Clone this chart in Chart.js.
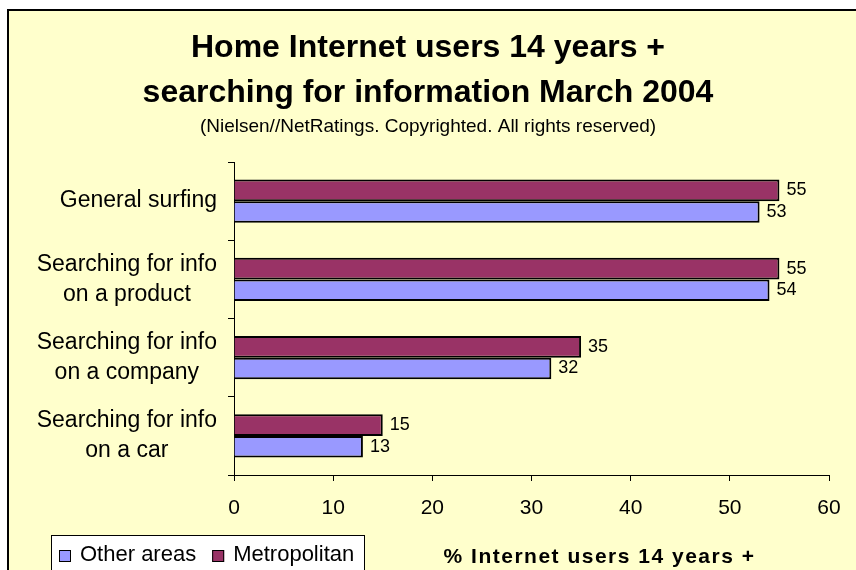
<!DOCTYPE html>
<html>
<head>
<meta charset="utf-8">
<script src="https://cdn.jsdelivr.net/npm/chart.js@4.4.0/dist/chart.umd.min.js"></script>
<style>
  html, body { margin: 0; padding: 0; background: #fff; }
  canvas { display: block; }
</style>
</head>
<body>
<canvas id="grafico" width="856" height="570"></canvas>
<script>
// categorias e valores (%)
const categorias = [
  'General surfing',
  ['Searching for info', 'on a product'],
  ['Searching for info', 'on a company'],
  ['Searching for info', 'on a car']
];
const metropolitan = [55, 55, 35, 15];
const otherAreas = [53, 54, 32, 13];
const eixoMin = 0;
const eixoMax = 60;
const eixoPasso = 10;

const fonte = "'Liberation Sans', Arial, sans-serif";
Chart.defaults.font.family = fonte;

// fundo amarelo com a moldura
const fundo = {
  id: 'fundo',
  beforeDraw(chart) {
    const ctx = chart.ctx;
    ctx.save();
    ctx.fillStyle = '#ffffff';
    ctx.fillRect(0, 0, chart.width, chart.height);
    ctx.fillStyle = '#ffffcc';
    ctx.fillRect(8, 10, chart.width - 8, chart.height - 10);
    ctx.strokeStyle = '#000';
    ctx.lineWidth = 2;
    ctx.beginPath();
    ctx.moveTo(8, chart.height);
    ctx.lineTo(8, 10);
    ctx.lineTo(chart.width, 10);
    ctx.stroke();
    ctx.restore();
  }
};

// rótulos do eixo y: cada bloco centrado em si e encostado à direita
const alinharRotulos = {
  id: 'alinharRotulos',
  beforeDraw(chart) {
    const escala = chart.scales.y;
    const ctx = chart.ctx;
    const direita = escala.right - escala.options.grid.tickLength - escala.options.ticks.padding;
    ctx.save();
    escala.getLabelItems(chart.chartArea).forEach(item => {
      ctx.font = item.font.string;
      const linhas = Array.isArray(item.label) ? item.label : [item.label];
      const largura = Math.max(...linhas.map(l => ctx.measureText(l).width));
      item.options.textAlign = 'center';
      item.options.translation[0] = direita - largura / 2;
    });
    ctx.restore();
  }
};

// título do eixo x fica mais à direita, ao lado da legenda
const tituloEixoX = {
  id: 'tituloEixoX',
  afterLayout(chart) {
    const escala = chart.scales.x;
    if (escala._tituloMovido) return;
    escala._tituloMovido = true;
    const desenhar = escala.drawTitle;
    escala.drawTitle = function () {
      const ctx = this.ctx;
      ctx.save();
      ctx.translate(68, 4);
      ctx.letterSpacing = '1.5px';
      desenhar.call(this);
      ctx.restore();
    };
  }
};

// valor escrito na ponta de cada barra
const rotulos = {
  id: 'rotulos',
  afterDatasetsDraw(chart) {
    const ctx = chart.ctx;
    ctx.save();
    ctx.font = `18px ${fonte}`;
    ctx.fillStyle = '#000';
    ctx.textBaseline = 'middle';
    chart.data.datasets.forEach((ds, i) => {
      chart.getDatasetMeta(i).data.forEach((barra, j) => {
        ctx.fillText(ds.data[j], barra.x + 7, barra.y);
      });
    });
    ctx.restore();
  }
};

// legenda em caixa branca no canto de baixo
const legenda = {
  id: 'legenda',
  afterDraw(chart) {
    const ctx = chart.ctx;
    ctx.save();
    ctx.fillStyle = '#fff';
    ctx.fillRect(51, 535, 313, 50);
    ctx.strokeStyle = '#000';
    ctx.lineWidth = 1;
    ctx.strokeRect(51.5, 535.5, 313, 50);
    ctx.font = `22px ${fonte}`;
    ctx.textBaseline = 'middle';
    let x = 59;
    [...chart.data.datasets].reverse().forEach(ds => {
      ctx.fillStyle = ds.backgroundColor;
      ctx.fillRect(x, 550, 12, 12);
      ctx.strokeRect(x + 0.5, 550.5, 11, 11);
      ctx.fillStyle = '#000';
      ctx.fillText(ds.label, x + 21, 555);
      x += 21 + ctx.measureText(ds.label).width + 16;
    });
    ctx.restore();
  }
};

new Chart(document.getElementById('grafico'), {
  type: 'bar',
  data: {
    labels: categorias,
    datasets: [
      { label: 'Metropolitan', data: metropolitan, backgroundColor: '#993366' },
      { label: 'Other areas', data: otherAreas, backgroundColor: '#9999ff' }
    ]
  },
  options: {
    indexAxis: 'y',
    responsive: false,
    animation: false,
    layout: { padding: { top: 0, right: 27, bottom: 0, left: 27 } },
    datasets: {
      bar: { categoryPercentage: 0.55, barPercentage: 1, borderColor: '#000', borderWidth: 2 }
    },
    plugins: {
      legend: { display: false },
      tooltip: { enabled: false },
      title: {
        display: true,
        text: ['Home Internet users 14 years +', 'searching for information March 2004'],
        color: '#000',
        font: { size: 32, weight: 'bold', lineHeight: 1.4 },
        padding: { top: 26, bottom: 0 }
      },
      subtitle: {
        display: true,
        text: '(Nielsen//NetRatings. Copyrighted. All rights reserved)',
        color: '#000',
        font: { size: 19, lineHeight: 1.2 },
        padding: { top: 0, bottom: 23.6 }
      }
    },
    scales: {
      x: {
        min: eixoMin,
        max: eixoMax,
        ticks: { stepSize: eixoPasso, color: '#000', font: { size: 21 }, padding: 15 },
        grid: { drawOnChartArea: false, color: '#000', tickLength: 6 },
        border: { color: '#000', width: 1 },
        title: {
          display: true,
          text: '% Internet users 14 years +',
          color: '#000',
          font: { size: 21, weight: 'bold' },
          padding: { top: 0, bottom: 4 }
        },
        afterFit(scale) { scale.height = 95; }
      },
      y: {
        ticks: { color: '#000', font: { size: 23, lineHeight: 1.3 }, crossAlign: 'center', padding: 11 },
        grid: { drawOnChartArea: false, color: '#000', tickLength: 6 },
        border: { color: '#000', width: 1 },
        afterFit(scale) { scale.width = 207; }
      }
    }
  },
  plugins: [fundo, alinharRotulos, tituloEixoX, rotulos, legenda]
});
</script>
</body>
</html>
